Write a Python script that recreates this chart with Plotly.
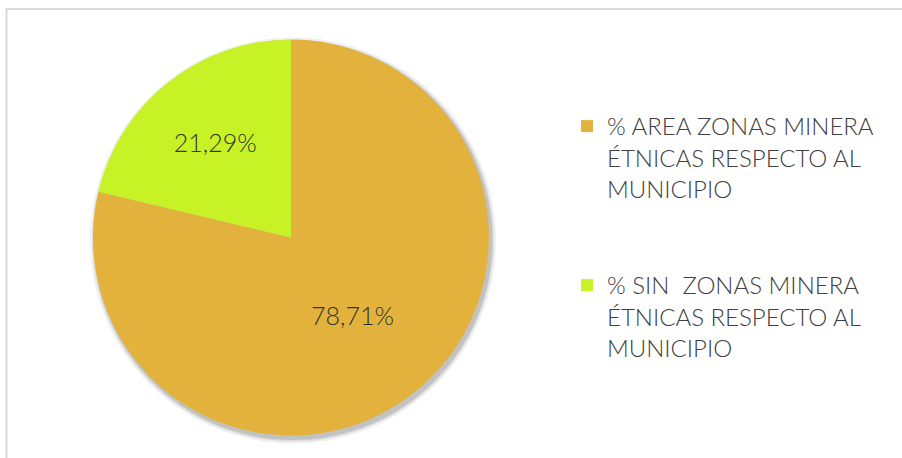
import plotly.graph_objects as go

categories = [
    "% AREA ZONAS MINERA ÉTNICAS RESPECTO AL MUNICIPIO",
    "% SIN  ZONAS MINERA ÉTNICAS RESPECTO AL MUNICIPIO",
]
values = [78.71, 21.29]
colors = ["#E2B23C", "#C6F226"]

def wrap(label):
    # wrap legend text into three lines like the reference
    parts = label.split(" ÉTNICAS ")
    rest = "ÉTNICAS " + parts[1]
    l2, l3 = rest.rsplit(" ", 1)
    return parts[0] + "<br>" + l2 + "<br>" + l3

legend_labels = [wrap(c) for c in categories]
legend_labels[0] = legend_labels[0] + "<br> <br> "

W, H = 902, 458
cx, cy, r = 291, 237.5, 198

shadow_shapes = []
for k, op in [(5, 0.06), (3, 0.08), (1.5, 0.12)]:
    shadow_shapes.append(dict(
        type="circle", xref="paper", yref="paper", layer="below",
        x0=(cx - r - k + 2) / W, x1=(cx + r + k + 2) / W,
        y0=1 - (cy + r + k + 3) / H, y1=1 - (cy - r - k + 3) / H,
        fillcolor="rgba(0,0,0,%s)" % op, line=dict(width=0),
    ))

fig = go.Figure(go.Pie(
    labels=legend_labels,
    values=values,
    marker=dict(colors=colors, line=dict(width=0)),
    sort=False,
    direction="clockwise",
    rotation=0,
    textposition="inside",
    insidetextorientation="horizontal",
    texttemplate="%{value:.2f}%",
    textfont=dict(family="Lato", size=25, color="#333333", weight=300),
    domain=dict(x=[(cx - r) / W, (cx + r) / W], y=[1 - (cy + r) / H, 1 - (cy - r) / H]),
    hoverinfo="label+percent",
))

fig.update_layout(
    width=W, height=H,
    margin=dict(l=0, r=0, t=0, b=0),
    paper_bgcolor="white",
    plot_bgcolor="white",
    separators=",.",
    font=dict(family="Lato", color="#404040"),
    legend=dict(
        x=567 / W, y=1 - 104 / H, xanchor="left", yanchor="top",
        valign="top",
        font=dict(family="Lato", size=24, color="#404040", weight=300),
        itemwidth=30,
        traceorder="normal",
    ),
    shapes=[dict(
        type="rect", xref="paper", yref="paper",
        x0=6.5 / W, x1=1.05, y0=-0.05, y1=1 - 9 / H,
        line=dict(color="#D9D9D9", width=2), layer="below",
    )] + shadow_shapes,
)

fig.write_html("out.html", config={"displayModeBar": False},
               post_script="document.body.style.margin='0';")
